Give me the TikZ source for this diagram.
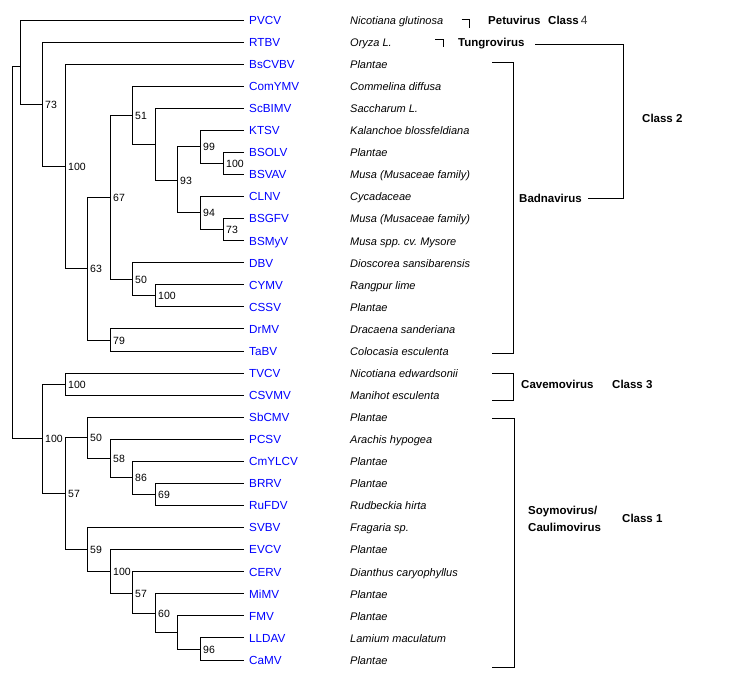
\documentclass[tikz,border=0pt]{standalone}
\usepackage{fontspec}
\setmainfont{Liberation Sans}
\frenchspacing
\begin{document}
\begin{tikzpicture}[x=1pt,y=-1pt,
  edge/.style={line width=1pt,black},
  leafname/.style={inner sep=0pt,anchor=base west,text=blue,font=\fontsize{11.7}{13}\selectfont},
  host/.style={inner sep=0pt,anchor=base west,font=\fontsize{11}{13}\itshape},
  boot/.style={inner sep=0pt,anchor=base west,font=\fontsize{10.5}{12}\selectfont},
  clade/.style={inner sep=0pt,anchor=base west,font=\fontsize{11.5}{13}\bfseries},
  brk/.style={line width=1pt,black}]
\useasboundingbox (0,0) rectangle (742,688);
% leaves
\foreach \n/\s [count=\i from 0] in {
 PVCV/Nicotiana glutinosa, RTBV/Oryza L., BsCVBV/Plantae, ComYMV/Commelina diffusa,
 ScBIMV/Saccharum L., KTSV/Kalanchoe blossfeldiana, BSOLV/Plantae, BSVAV/Musa (Musaceae family),
 CLNV/Cycadaceae, BSGFV/Musa (Musaceae family), BSMyV/Musa spp.\ cv.\ Mysore,
 DBV/Dioscorea sansibarensis, CYMV/Rangpur lime, CSSV/Plantae, DrMV/Dracaena sanderiana,
 TaBV/Colocasia esculenta, TVCV/Nicotiana edwardsonii, CSVMV/Manihot esculenta,
 SbCMV/Plantae, PCSV/Arachis hypogea, CmYLCV/Plantae, BRRV/Plantae, RuFDV/Rudbeckia hirta,
 SVBV/Fragaria sp., EVCV/Plantae, CERV/Dianthus caryophyllus, MiMV/Plantae, FMV/Plantae,
 LLDAV/Lamium maculatum, CaMV/Plantae} {
  \coordinate (\n) at (244,{20+22.07*\i});
  \node[leafname] (\n-name) at (249,{24.3+22.07*\i}) {\n};
  \node[host] (\n-host) at (350,{24.3+22.07*\i}) {\s};
}
% internal nodes
\coordinate (R) at (12,252);
\coordinate (A) at (20.5,66);
\coordinate (N73) at (42,104);
\coordinate (N100a) at (65,166);
\coordinate (N63) at (87,268);
\coordinate (N67) at (110,197);
\coordinate (N51) at (132,115);
\coordinate (Nx) at (155,144);
\coordinate (N93) at (177,180);
\coordinate (N99) at (200,146);
\coordinate (N100b) at (223,163.5);
\coordinate (N94) at (200,212);
\coordinate (N73b) at (223,229.7);
\coordinate (N50a) at (132,279);
\coordinate (N100c) at (155,295.9);
\coordinate (N79) at (110,340);
\coordinate (B) at (42,438);
\coordinate (N100d) at (65,384);
\coordinate (N57a) at (65,493);
\coordinate (N50b) at (87,437);
\coordinate (N58) at (110,458);
\coordinate (N86) at (132,477);
\coordinate (N69) at (155,494.5);
\coordinate (N59) at (87,549);
\coordinate (N100e) at (110,571);
\coordinate (N57b) at (132,593);
\coordinate (N60) at (155,613);
\coordinate (Ny) at (177,632);
\coordinate (N96) at (200,649);
% edges
\foreach \p/\c in {R/A, R/B, A/PVCV, A/N73, N73/RTBV, N73/N100a, N100a/BsCVBV, N100a/N63,
  N63/N67, N63/N79, N67/N51, N67/N50a, N51/ComYMV, N51/Nx, Nx/ScBIMV, Nx/N93,
  N93/N99, N93/N94, N99/KTSV, N99/N100b, N100b/BSOLV, N100b/BSVAV, N94/CLNV, N94/N73b,
  N73b/BSGFV, N73b/BSMyV, N50a/DBV, N50a/N100c, N100c/CYMV, N100c/CSSV, N79/DrMV, N79/TaBV,
  B/N100d, B/N57a, N100d/TVCV, N100d/CSVMV, N57a/N50b, N57a/N59, N50b/SbCMV, N50b/N58,
  N58/PCSV, N58/N86, N86/CmYLCV, N86/N69, N69/BRRV, N69/RuFDV, N59/SVBV, N59/N100e,
  N100e/EVCV, N100e/N57b, N57b/CERV, N57b/N60, N60/MiMV, N60/Ny, Ny/FMV, Ny/N96,
  N96/LLDAV, N96/CaMV}
  \draw[edge] (\p) |- (\c);
% bootstrap labels
\foreach \c/\v in {N73/73, N100a/100, N63/63, N67/67, N51/51, N93/93, N99/99, N100b/100,
  N94/94, N73b/73, N50a/50, N100c/100, N79/79, B/100, N100d/100, N57a/57, N50b/50, N58/58,
  N86/86, N69/69, N59/59, N100e/100, N57b/57, N60/60, N96/96}
  \node[boot] (\c-bs) at ([xshift=3pt,yshift=-4pt]\c) {\v};
% clade brackets
\coordinate (pt1) at (461.5,19); \coordinate (pt2) at (469,28);
\draw[brk] (pt1) -| (pt2);
\node[clade] (petu) at (488,24.3) {Petuvirus};
\node[clade] (class4) at (548,24.3) {Class\,\mdseries\textcolor{black!80}{\fontsize{12}{13}\selectfont 4}};
\coordinate (tg1) at (435,39); \coordinate (tg2) at (443,47);
\draw[brk] (tg1) -| (tg2);
\node[clade] (tungro) at (458,46.8) {Tungrovirus};
\coordinate (tgL) at (535,44); \coordinate (bdL) at (588,198); \coordinate (c2) at (623,198);
\draw[brk] (tgL) -| (c2) -- (bdL);
\node[clade] (badna) at (519,202) {Badnavirus};
\node[clade] (class2) at (642,122) {Class 2};
\coordinate (bd1) at (492,62); \coordinate (bd2) at (513,353); \coordinate (bd3) at (492,353);
\draw[brk] (bd1) -| (bd2) -- (bd3);
\coordinate (cv1) at (492,373); \coordinate (cv2) at (513,400); \coordinate (cv3) at (492,400);
\draw[brk] (cv1) -| (cv2) -- (cv3);
\node[clade] (cavemo) at (521,388.3) {Cavemovirus};
\node[clade] (class3) at (612,388.3) {Class 3};
\coordinate (sm1) at (492,418); \coordinate (sm2) at (514,667); \coordinate (sm3) at (492,667);
\draw[brk] (sm1) -| (sm2) -- (sm3);
\node[clade] (soymo) at (528,514.3) {Soymovirus/};
\node[clade] (caulimo) at (528,531.6) {Caulimovirus};
\node[clade] (class1) at (622,522.3) {Class 1};
\end{tikzpicture}
\end{document}
